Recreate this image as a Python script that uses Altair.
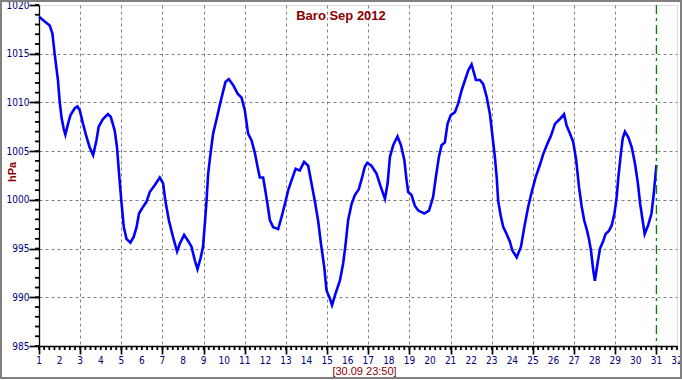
import altair as alt
import pandas as pd

days = [1.00, 1.28, 1.52, 1.65, 1.76, 1.92, 2.00, 2.09, 2.20, 2.28, 2.41, 2.53, 2.74, 2.87, 2.98,
        3.14, 3.33, 3.46, 3.63, 3.79, 3.90, 4.11, 4.35, 4.49, 4.68, 4.79, 4.89, 5.00, 5.12, 5.25,
        5.44, 5.60, 5.74, 5.86, 6.06, 6.22, 6.38, 6.62, 6.87, 7.03, 7.14, 7.31, 7.51, 7.71, 7.84,
        8.05, 8.24, 8.41, 8.57, 8.70, 8.86, 8.97, 9.06, 9.14, 9.22, 9.33, 9.46, 9.62, 9.78, 9.92,
        10.06, 10.22, 10.43, 10.65, 10.84, 11.00, 11.16, 11.33, 11.49, 11.62, 11.73, 11.89, 11.97,
        12.10, 12.22, 12.38, 12.62, 12.78, 12.95, 13.11, 13.27, 13.47, 13.67, 13.88, 14.08, 14.24,
        14.40, 14.56, 14.70, 14.86, 14.97, 15.13, 15.24, 15.41, 15.62, 15.78, 15.90, 16.02, 16.19,
        16.35, 16.54, 16.70, 16.83, 16.95, 17.15, 17.40, 17.61, 17.81, 17.94, 18.05, 18.21, 18.42,
        18.59, 18.75, 18.86, 18.94, 19.10, 19.26, 19.43, 19.72, 19.95, 20.15, 20.28, 20.43, 20.56,
        20.72, 20.85, 21.01, 21.21, 21.37, 21.53, 21.70, 21.86, 22.02, 22.23, 22.42, 22.58, 22.75,
        22.91, 23.02, 23.15, 23.24, 23.31, 23.45, 23.56, 23.72, 23.88, 24.00, 24.21, 24.42, 24.58,
        24.77, 24.94, 25.13, 25.34, 25.50, 25.71, 25.88, 26.07, 26.31, 26.51, 26.64, 26.80, 26.96,
        27.10, 27.24, 27.37, 27.49, 27.61, 27.72, 27.82, 27.93, 28.01, 28.14, 28.26, 28.42, 28.53,
        28.69, 28.83, 28.96, 29.07, 29.15, 29.27, 29.36, 29.47, 29.64, 29.80, 29.96, 30.10, 30.21,
        30.33, 30.43, 30.60, 30.76, 30.87, 31.00]
hpa = [1018.8, 1018.3, 1017.9, 1017.1, 1015.0, 1012.3, 1010.2, 1008.5, 1007.3, 1006.7, 1007.8, 1008.7, 1009.4, 1009.6, 1009.2,
       1007.8, 1006.3, 1005.4, 1004.6, 1006.1, 1007.5, 1008.3, 1008.8, 1008.5, 1007.1, 1005.4, 1002.7, 999.9, 997.2, 996.0,
       995.6, 996.2, 997.2, 998.6, 999.3, 999.8, 1000.8, 1001.5, 1002.3, 1001.7, 999.9, 997.9, 996.2, 994.7, 995.5,
       996.4, 995.8, 995.2, 993.8, 992.9, 994.1, 995.2, 997.6, 999.9, 1002.7, 1004.7, 1006.8, 1008.2, 1009.7, 1010.9,
       1012.1, 1012.4, 1011.8, 1010.9, 1010.5, 1009.2, 1006.8, 1006.1, 1004.8, 1003.4, 1002.3, 1002.3, 1001.3,
       999.6, 997.9, 997.2, 997.0, 998.2, 999.6, 1001.0, 1002.0, 1003.2, 1003.0, 1003.9, 1003.5, 1001.7,
       999.9, 997.9, 995.5, 993.1, 990.7, 989.9, 989.2, 990.4, 991.7, 993.5, 995.5, 997.9, 999.6,
       1000.5, 1001.1, 1002.3, 1003.4, 1003.8, 1003.5, 1002.7, 1001.3, 1000.1, 1001.7, 1004.4, 1005.6, 1006.5,
       1005.6, 1004.1, 1002.0, 1000.8, 1000.5, 999.4, 998.9, 998.6, 998.9, 1000.3, 1002.3, 1004.4, 1005.6,
       1005.9, 1007.8, 1008.7, 1009.0, 1009.9, 1011.2, 1012.3, 1013.3, 1013.9, 1012.3, 1012.3, 1011.9, 1010.6,
       1008.8, 1006.8, 1004.4, 1002.3, 999.9, 998.2, 997.2, 996.5, 995.7, 994.8, 994.1, 995.2, 997.2,
       999.3, 1000.8, 1002.3, 1003.6, 1004.7, 1005.8, 1006.6, 1007.8, 1008.3, 1008.8, 1007.6, 1006.8, 1005.9,
       1004.1, 1001.3, 999.3, 997.9, 997.0, 996.0, 994.8, 992.8, 991.7, 993.5, 995.0, 995.8, 996.5,
       996.8, 997.4, 998.6, 1000.3, 1002.3, 1004.7, 1006.3, 1007.0, 1006.4, 1005.4, 1003.7, 1001.7, 999.6,
       997.9, 996.5, 997.4, 998.6, 1000.6, 1003.6]

x_major = list(range(1, 33))                       # day labels 1 .. 32
x_minor = [1 + 0.25 * i for i in range(125)]       # every 6 h
y_major = list(range(985, 1021, 5))                # hPa labels
y_minor = list(range(985, 1021))                   # every 1 hPa
marker_day = [31]
title_text = "Baro Sep 2012"
unit_text = "hPa"
stamp_text = "[30.09 23:50]"

W, H = 638, 341
NAVY = "#000080"
DARKRED = "#8B0000"
FONT = "Liberation Sans Narrow, DejaVu Sans Condensed, Liberation Sans, Arial"

df = pd.DataFrame({"day": days, "hpa": hpa})

xscale = alt.Scale(domain=[1, 32], nice=False, zero=False)
yscale = alt.Scale(domain=[985, 1020], nice=False, zero=False)

xaxis = alt.Axis(
    values=x_major, title=None, domainColor="black", domainWidth=1.3,
    tickColor="black", tickSize=8, tickWidth=1.7,
    labels=False,
    grid=True, gridColor="#808080", gridDash=[3, 3],
    gridOpacity={"condition": {"test": "datum.value > 1 && datum.value < 31", "value": 1}, "value": 0},
)
yaxis = alt.Axis(
    values=y_major, title=None, domainColor="black", domainWidth=1.3,
    tickColor="black", tickSize=10, tickWidth=1.7,
    format="d", labelOverlap=False, labelColor=NAVY, labelFont=FONT, labelFontSize=10,
    labelPadding=0, labelFlush=False,
    grid=True, gridColor="#808080", gridDash=[3, 3],
    gridOpacity={"condition": {"test": "datum.value > 985 && datum.value < 1020", "value": 1}, "value": 0},
)

line = alt.Chart(df).mark_line(color="#0000FF", strokeWidth=2.6, interpolate="linear").encode(
    x=alt.X("day:Q", scale=xscale, axis=xaxis),
    y=alt.Y("hpa:Q", scale=yscale, axis=yaxis),
)

xlabels = alt.Chart(pd.DataFrame({"day": x_major})).mark_text(
    color=NAVY, font=FONT, fontSize=10, align="center", baseline="top"
).encode(x=alt.X("day:Q", scale=xscale), y=alt.value(H + 10), text=alt.Text("day:Q", format="d"))

# minor ticks as short rules at data positions
xminor = alt.Chart(pd.DataFrame({"day": x_minor})).mark_rule(
    color="black", strokeWidth=1.8
).encode(x=alt.X("day:Q", scale=xscale), y=alt.value(H), y2=alt.value(H + 4))
yminor = alt.Chart(pd.DataFrame({"hpa": y_minor})).mark_rule(
    color="black", strokeWidth=1.8
).encode(y=alt.Y("hpa:Q", scale=yscale), x=alt.value(-4), x2=alt.value(0))

marker = alt.Chart(pd.DataFrame({"day": marker_day})).mark_rule(
    color="#008000", strokeWidth=1.3, strokeDash=[9, 4, 3, 4]
).encode(x=alt.X("day:Q", scale=xscale), y=alt.value(0), y2=alt.value(H))

one = alt.Data(values=[{}])
title = alt.Chart(one).mark_text(
    text=title_text, color=DARKRED, font="Liberation Sans, Arial", fontSize=13, fontWeight="bold",
    align="center", baseline="alphabetic"
).encode(x=alt.value(302), y=alt.value(15))

unit = alt.Chart(one).mark_text(
    text=unit_text, color=DARKRED, font="Liberation Sans, Arial", fontSize=11, fontWeight="bold",
    align="center", baseline="middle", angle=270
).encode(x=alt.value(-26.5), y=alt.value(167))

stamp = alt.Chart(one).mark_text(
    text=stamp_text, color=DARKRED, font="Liberation Sans, Arial", fontSize=11,
    align="center", baseline="alphabetic"
).encode(x=alt.value(325.5), y=alt.value(370))

frame = alt.Chart(one).mark_rect(
    filled=False, stroke="#808080", strokeWidth=2
).encode(x=alt.value(-38), x2=alt.value(642), y=alt.value(-4), y2=alt.value(373))

chart = alt.layer(line, xminor, yminor, xlabels, marker, title, unit, stamp, frame).properties(
    width=W, height=H,
    autosize=alt.AutoSizeParams(type="none"),
    padding={"left": 39, "top": 5, "right": 5, "bottom": 34},
).configure_view(stroke=None).configure(background="white")

chart.save("out.html", embed_options={"renderer": "svg", "actions": False})
